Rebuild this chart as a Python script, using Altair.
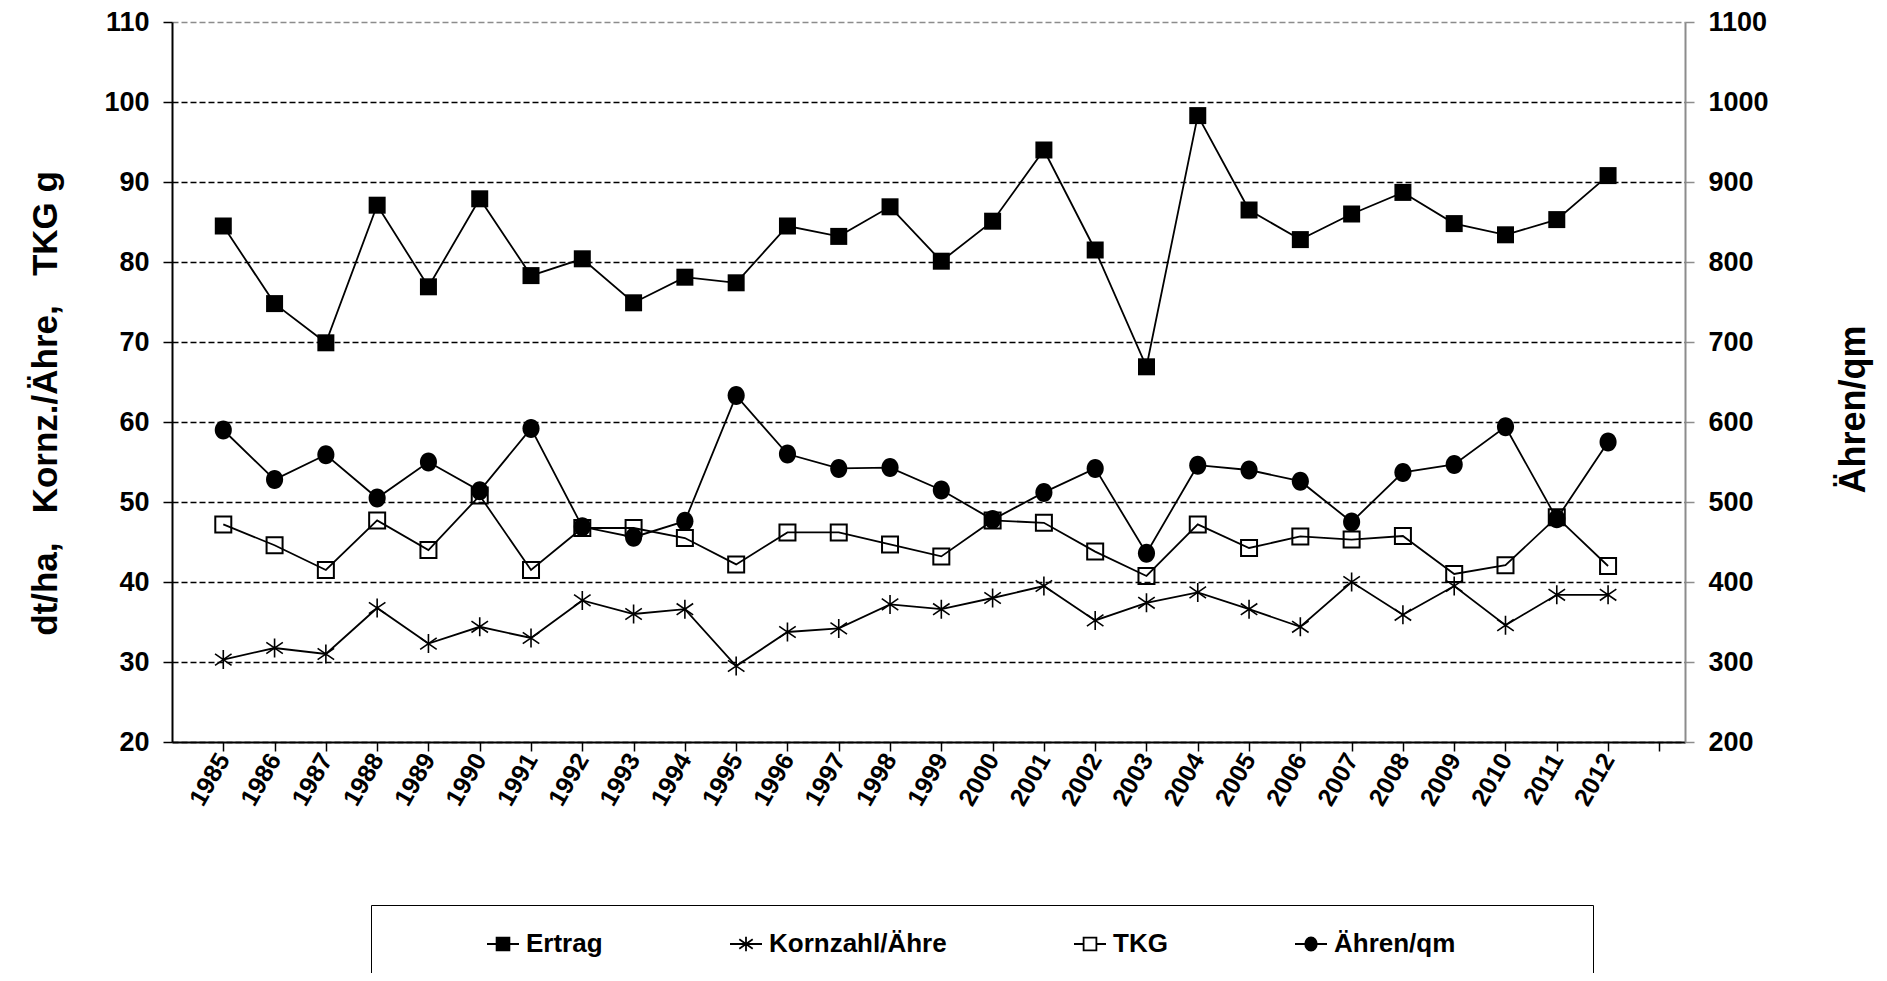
import altair as alt
import pandas as pd

# ---------------- data ----------------
years = list(range(1985, 2013))
ertrag = [84.5, 74.8, 69.9, 87.1, 76.9, 87.9, 78.3, 80.4, 74.9, 78.1, 77.4, 84.5, 83.2, 86.9,
          80.1, 85.1, 94.0, 81.5, 66.9, 98.3, 86.5, 82.8, 86.0, 88.7, 84.8, 83.4, 85.3, 90.8]
kornzahl = [30.3, 31.75, 31.0, 36.75, 32.3, 34.4, 33.0, 37.7, 36.0, 36.6, 29.5, 33.75, 34.2, 37.2,
            36.6, 38.0, 39.5, 35.2, 37.4, 38.7, 36.6, 34.4, 40.0, 35.9, 39.5, 34.6, 38.4, 38.4]
tkg = [47.2, 44.6, 41.5, 47.7, 44.0, 50.8, 41.5, 46.75, 46.75, 45.5, 42.2, 46.2, 46.2, 44.7,
       43.2, 47.7, 47.4, 43.8, 40.75, 47.2, 44.25, 45.7, 45.3, 45.75, 41.0, 42.1, 48.1, 42.0]
aehren = [590, 528, 559, 505, 550, 514, 592, 469, 456, 476, 633, 560, 542, 543,
          515, 478, 512, 542, 436, 546, 540, 526, 475, 537, 547, 594, 479, 575]

series = ["Ertrag", "Kornzahl/Ähre", "TKG", "Ähren/qm"]
columns = ["Ertrag", "Kornzahl", "TKG", "Aehren"]
x_ticks = list(range(1985, 2014))
left_ticks = list(range(20, 111, 10))
right_ticks = list(range(200, 1101, 100))
NBSP = "\u00a0"
ZWSP = "\u200b"
left_title = "dt/ha," + NBSP * 3 + "Kornz./Ähre," + NBSP * 3 + "TKG" + NBSP + "g"
right_title = "Ähren/qm"

df = pd.DataFrame({"Jahr": years, "Ertrag": ertrag, "Kornzahl": kornzahl,
                   "TKG": tkg, "Aehren": aehren})

FONT = "Liberation Sans, Arial, Helvetica, sans-serif"
GRAY = "#8c8c8c"

# ---------------- scales / axes ----------------
x_enc = alt.X(
    "Jahr:Q",
    scale=alt.Scale(domain=[1984, 2013.5], nice=False, zero=False),
    axis=alt.Axis(values=x_ticks, format="d",
                  labelExpr="datum.value > 2012 ? '' : datum.label",
                  labelAngle=-60, labelAlign="right", labelBaseline="middle",
                  labelFontSize=25, labelFontWeight="bold", labelColor="black",
                  labelPadding=4, tickSize=9, tickColor="black", tickWidth=1.5,
                  domainColor="black", domainWidth=2, grid=False, title=None),
)

left_scale = alt.Scale(domain=[20, 110], nice=False, zero=False)
left_axis = alt.Axis(values=left_ticks, format="d", title=left_title, titleFontSize=35,
                     titleFontWeight="bold", titleColor="black", titlePadding=40,
                     titleY=381,
                     labelFontSize=27, labelFontWeight="bold", labelColor="black",
                     labelPadding=14, tickSize=9, tickColor="black", tickWidth=1.5,
                     domainColor="black", domainWidth=2,
                     grid=True, gridDash=[6, 3], gridWidth=1.5,
                     gridColor={"condition": {"test": "datum.value == 110", "value": GRAY},
                                "value": "black"})

right_scale = alt.Scale(domain=[200, 1100], nice=False, zero=False)
right_axis = alt.Axis(orient="right", values=right_ticks, format="d", title=right_title,
                      titleAngle=-90, titleBaseline="top", titleFontSize=36,
                      titleFontWeight="bold", titleColor="black", titlePadding=68,
                      titleY=387,
                      labelFontSize=27, labelFontWeight="bold", labelColor="black",
                      labelPadding=14, tickSize=9, tickColor=GRAY, tickWidth=1.5,
                      domainColor=GRAY, domainWidth=2, grid=False)


def ly(field):
    return alt.Y(field + ":Q", scale=left_scale, axis=left_axis)


# ---------------- marks ----------------
ASTERISK = "M0,-1L0,1M-0.87,-0.6L0.87,0.6M-0.87,0.6L0.87,-0.6"
ELLIPSE = "M-0.9,0A0.9,1 0 1,0 0.9,0A0.9,1 0 1,0 -0.9,0Z"

base = alt.Chart(df)
line_kw = dict(color="black", strokeWidth=1.8)

ertrag_line = base.mark_line(**line_kw).encode(x=x_enc, y=ly("Ertrag"))
korn_line = base.mark_line(**line_kw).encode(x=x_enc, y=ly("Kornzahl"))
tkg_line = base.mark_line(**line_kw).encode(x=x_enc, y=ly("TKG"))

ertrag_pts = base.mark_point(shape="square", filled=True, color="black", size=289,
                             opacity=1).encode(x=x_enc, y=ly("Ertrag"))
korn_pts = base.mark_point(shape=ASTERISK, filled=False, color="black", size=361,
                           strokeWidth=1.6, opacity=1).encode(x=x_enc, y=ly("Kornzahl"))
tkg_pts = base.mark_point(shape="square", filled=False, color="black", size=256,
                          strokeWidth=2, opacity=1).encode(x=x_enc, y=ly("TKG"))

# legend (driven by an invisible layer)
LEG_ERTRAG = "M-1,0L1,0M-0.4,-0.4L0.4,-0.4L0.4,0.4L-0.4,0.4Z"
LEG_KORN = "M-1,0L1,0M0,-0.45L0,0.45M-0.42,-0.3L0.42,0.3M-0.42,0.3L0.42,-0.3"
LEG_TKG = "M-1,0L-0.4,0M0.4,0L1,0M-0.4,-0.4L0.4,-0.4L0.4,0.4L-0.4,0.4Z"
LEG_AEHREN = "M-1,0L1,0M-0.36,0A0.36,0.42 0 1,0 0.36,0A0.36,0.42 0 1,0 -0.36,0Z"

leg = alt.Legend(
    orient="none", legendX=199, legendY=883, direction="horizontal", columns=4,
    title=ZWSP + NBSP * 12 + ZWSP, titleOrient="left", titlePadding=6, titleFontSize=26,
    strokeColor="black", padding=22, columnPadding=123,
    symbolSize=1024, symbolStrokeWidth=1.8, symbolStrokeColor="black", symbolOpacity=1,
    labelFontSize=26, labelFontWeight="bold", labelColor="black", labelOffset=6,
    labelLimit=600,
    labelExpr="datum.label == 'Ähren/qm' ? datum.label + '" + NBSP * 16 + ZWSP + "' : datum.label",
)

legend_layer = base.transform_fold(columns, as_=["key", "val"]).transform_calculate(
    Serie="datum.key == 'Ertrag' ? 'Ertrag' : datum.key == 'Kornzahl' ? 'Kornzahl/Ähre' : "
          "datum.key == 'TKG' ? 'TKG' : 'Ähren/qm'"
).mark_point(opacity=0, filled=True, strokeWidth=1.8).encode(
    x=x_enc,
    y=ly("Ertrag"),
    shape=alt.Shape("Serie:N", scale=alt.Scale(domain=series,
                    range=[LEG_ERTRAG, LEG_KORN, LEG_TKG, LEG_AEHREN]), legend=leg),
    fill=alt.Fill("Serie:N", scale=alt.Scale(domain=series,
                  range=["black", "black", "white", "black"]), legend=leg),
    stroke=alt.Stroke("Serie:N", scale=alt.Scale(domain=series,
                      range=["black", "black", "black", "black"]), legend=leg),
)

left = alt.layer(legend_layer, ertrag_line, korn_line, tkg_line,
                 ertrag_pts, korn_pts, tkg_pts)

ry = alt.Y("Aehren:Q", scale=right_scale, axis=right_axis)
aehren_line = base.mark_line(**line_kw).encode(x=x_enc, y=ry)
aehren_pts = base.mark_point(shape=ELLIPSE, filled=True, color="black", size=361,
                             opacity=1).encode(x=x_enc, y=ry)
right = alt.layer(aehren_line, aehren_pts)

chart = alt.layer(left, right).resolve_scale(y="independent").properties(
    width=1513, height=720,
    autosize=alt.AutoSizeParams(type="none"),
    padding={"left": 164, "top": 14, "right": 194, "bottom": 231},
).configure_view(stroke=None).configure_axis(
    labelFont=FONT, titleFont=FONT
).configure_legend(labelFont=FONT, titleFont=FONT)

chart.save("out.html", embed_options={"renderer": "svg", "actions": False})
